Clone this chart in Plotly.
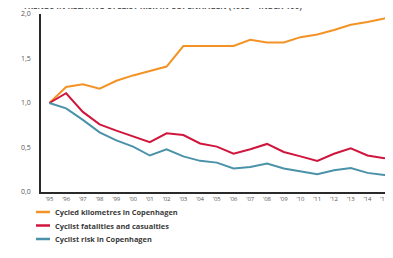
import plotly.graph_objects as go

years = list(range(1995, 2017))
year_labels = ["\u2019" + str(y)[2:] for y in years]

cycled_km = [1.00, 1.18, 1.21, 1.16, 1.25, 1.31, 1.36, 1.41, 1.64, 1.64, 1.64, 1.64,
             1.71, 1.68, 1.68, 1.74, 1.77, 1.82, 1.88, 1.91, 1.95, 2.01]
fatalities = [1.00, 1.11, 0.90, 0.76, 0.69, 0.625, 0.56, 0.66, 0.64, 0.545, 0.51, 0.43,
              0.48, 0.54, 0.45, 0.40, 0.35, 0.43, 0.49, 0.41, 0.38, 0.42]
risk = [1.00, 0.94, 0.81, 0.67, 0.58, 0.51, 0.41, 0.48, 0.40, 0.35, 0.33, 0.265,
        0.28, 0.32, 0.265, 0.23, 0.20, 0.245, 0.27, 0.215, 0.19, 0.215]

series_names = ["Cycled kilometres in Copenhagen", "Cyclist fatalities and casualties",
                "Cyclist risk in Copenhagen"]
series_values = [cycled_km, fatalities, risk]
series_colors = ["#F39325", "#D0163C", "#4A92A8"]

y_ticks = [0.0, 0.5, 1.0, 1.5, 2.0]
y_tick_labels = ["0,0", "0,5", "1,0", "1,5", "2,0"]

title_text = "TRENDS IN RELATIVE CYCLIST RISK IN COPENHAGEN (1995 = INDEX 100)"

W, H = 393, 258
L, R, T, B = 33, 0, 6, 74
PW, PH = W - L - R, H - T - B

fig = go.Figure()
for name, vals, col in zip(series_names, series_values, series_colors):
    fig.add_trace(go.Scatter(x=years, y=vals, mode="lines", name=name,
                             line=dict(color=col, width=2), showlegend=False))

def px_x(px):
    return (px - L) / PW

def px_y(py):
    return (H - B - py) / PH

legend_rows = [204, 217.5, 231]
for name, col, row in zip(series_names, series_colors, legend_rows):
    fig.add_shape(type="line", xref="paper", yref="paper",
                  x0=px_x(28), x1=px_x(42), y0=px_y(row), y1=px_y(row),
                  line=dict(color=col, width=2.5))
    fig.add_annotation(xref="paper", yref="paper", x=px_x(45), y=px_y(row),
                       xanchor="left", yanchor="middle", showarrow=False,
                       text="<b>" + name + "</b>",
                       font=dict(family="Open Sans", size=7.4, color="#3a3a3a"))

fig.add_annotation(xref="paper", yref="paper", x=px_x(13), y=1, xanchor="left",
                   yanchor="bottom", yshift=1.4, showarrow=False,
                   text="<b>" + title_text + "</b>",
                   font=dict(family="Open Sans", size=8, color="#555555"))

fig.update_layout(
    width=W, height=H,
    margin=dict(l=L, r=R, t=T, b=B, pad=0),
    paper_bgcolor="white", plot_bgcolor="white",
    showlegend=False,
    xaxis=dict(range=[1994.5, 2016.0], tickmode="array", tickvals=years,
               ticktext=year_labels, showgrid=False, zeroline=False,
               showline=True, linecolor="#2a2a2a", linewidth=2,
               ticks="", tickfont=dict(family="Open Sans", size=6, color="#555555")),
    yaxis=dict(range=[0, 2.0], tickmode="array", tickvals=y_ticks,
               ticktext=y_tick_labels, showgrid=False, zeroline=False,
               showline=True, linecolor="#2a2a2a", linewidth=1.5,
               ticks="", ticklabelstandoff=7,
               tickfont=dict(family="Open Sans", size=7, color="#555555")),
)

fig.write_html("out.html")
